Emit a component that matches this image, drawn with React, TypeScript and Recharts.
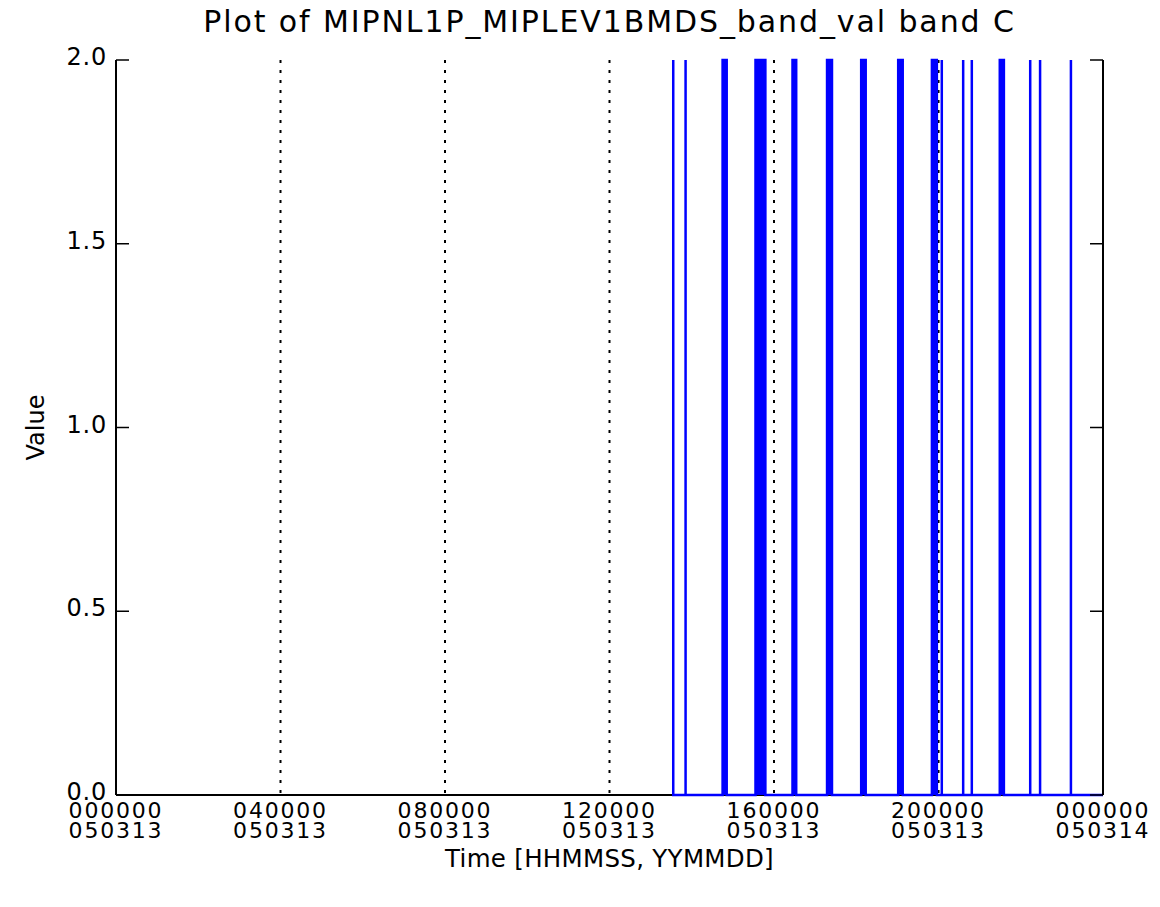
import React from "react";
import {
  ComposedChart,
  Area,
  XAxis,
  YAxis,
  CartesianGrid,
} from "recharts";

// spike onset times in hours after 000000 050313, and how long each stays high
const spikeStart = [
  13.55, 13.85, 14.75, 15.55, 16.45, 17.29, 18.12, 19.02, 19.84, 20.08, 20.6,
  20.81, 21.49, 22.23, 22.47, 23.22,
];
const spikeWidth = [
  0, 0, 0.1, 0.24, 0.09, 0.12, 0.11, 0.11, 0.12, 0, 0, 0, 0.1, 0, 0, 0,
];
const lowValue = 0;
const highValue = 2;

const xTicks = [0, 4, 8, 12, 16, 20, 24];
const xTickTimes = ["000000", "040000", "080000", "120000", "160000", "200000", "000000"];
const xTickDates = ["050313", "050313", "050313", "050313", "050313", "050313", "050314"];
const yTicks = [0, 0.5, 1, 1.5, 2];

const title = "Plot of MIPNL1P_MIPLEV1BMDS_band_val band C";
const font = "'DejaVu Sans', sans-serif";

const data: { t: number; v: number }[] = [];
spikeStart.forEach((s, i) => {
  const w = spikeWidth[i];
  data.push({ t: s, v: lowValue });
  data.push({ t: s, v: highValue });
  data.push({ t: s + w, v: highValue });
  data.push({ t: s + w, v: lowValue });
});
data.push({ t: 24, v: lowValue });

const LeftTick = (props: any) => {
  const { x, y, payload } = props;
  return (
    <g>
      <line x1={x} x2={x + 13} y1={y} y2={y} stroke="#000" strokeWidth={1.5} />
      <text
        x={x - 9}
        y={y - 3}
        textAnchor="end"
        dominantBaseline="central"
        fontSize={24}
        letterSpacing={0.8}
        fontFamily={font}
        fill="#000">
        {Number(payload.value).toFixed(1)}
      </text>
    </g>
  );
};

const RightTick = (props: any) => {
  const { x, y } = props;
  return <line x1={x - 13} x2={x} y1={y} y2={y} stroke="#000" strokeWidth={1.5} />;
};

const BottomTick = (props: any) => {
  const { x, y, payload } = props;
  const i = xTicks.indexOf(payload.value);
  return (
    <g fontSize={22} fontFamily={font} fill="#000" letterSpacing={1.8}>
      <text x={x} y={y + 15} textAnchor="middle" dominantBaseline="central">
        {xTickTimes[i]}
      </text>
      <text x={x} y={y + 35} textAnchor="middle" dominantBaseline="central">
        {xTickDates[i]}
      </text>
    </g>
  );
};

export default function App() {
  return (
    <div style={{ position: "relative", width: 1144, height: 891, fontFamily: font }}>
      <div
        style={{
          position: "absolute",
          left: 108,
          width: 987,
          top: -4,
          textAlign: "center",
          fontSize: 30,
          letterSpacing: 1.9,
          lineHeight: "36px",
          whiteSpace: "nowrap",
          color: "#000",
        }}>
        {title}
      </div>
      <ComposedChart
        width={1144}
        height={891}
        data={data}
        margin={{ top: 52, right: 48, bottom: 0, left: 0 }}>
        <CartesianGrid
          horizontal={false}
          stroke="#000"
          strokeWidth={2}
          strokeDasharray="3 7"
        />
        <CartesianGrid
          vertical={false}
          horizontalValues={[0]}
          stroke="#000"
          strokeWidth={2}
        />
        <XAxis
          dataKey="t"
          type="number"
          domain={[0, 24]}
          ticks={xTicks}
          interval={0}
          height={104}
          tickSize={0}
          tickMargin={0}
          tickLine={false}
          axisLine={false}
          tick={<BottomTick />}
          label={{
            value: "Time [HHMMSS, YYMMDD]",
            position: "insideBottom",
            offset: 32,
            fontSize: 24.5,
            letterSpacing: 0.3,
            fill: "#000",
          }}
        />
        <XAxis
          xAxisId="top"
          orientation="top"
          type="number"
          domain={[0, 24]}
          height={0}
          tick={false}
          tickLine={false}
          axisLine={{ stroke: "#000", strokeWidth: 2 }}
        />
        <YAxis
          type="number"
          domain={[0, 2]}
          ticks={yTicks}
          interval={0}
          width={108}
          tickSize={0}
          tickMargin={0}
          tickLine={false}
          axisLine={{ stroke: "#000", strokeWidth: 2 }}
          tick={<LeftTick />}
          label={{
            value: "Value",
            angle: -90,
            position: "insideLeft",
            offset: 27,
            fontSize: 24,
            fill: "#000",
            style: { textAnchor: "middle" },
          }}
        />
        <YAxis
          yAxisId="right"
          orientation="right"
          type="number"
          domain={[0, 2]}
          ticks={yTicks}
          interval={0}
          width={1}
          tickSize={0}
          tickMargin={0}
          tickLine={false}
          allowDataOverflow
          axisLine={{ stroke: "#000", strokeWidth: 2 }}
          tick={(p: any) => <RightTick {...p} />}
        />
        <Area
          type="linear"
          dataKey="v"
          stroke="#0000ff"
          strokeWidth={2.5}
          fill="#0000ff"
          fillOpacity={1}
          dot={false}
          activeDot={false}
          isAnimationActive={false}
        />
      </ComposedChart>
    </div>
  );
}
